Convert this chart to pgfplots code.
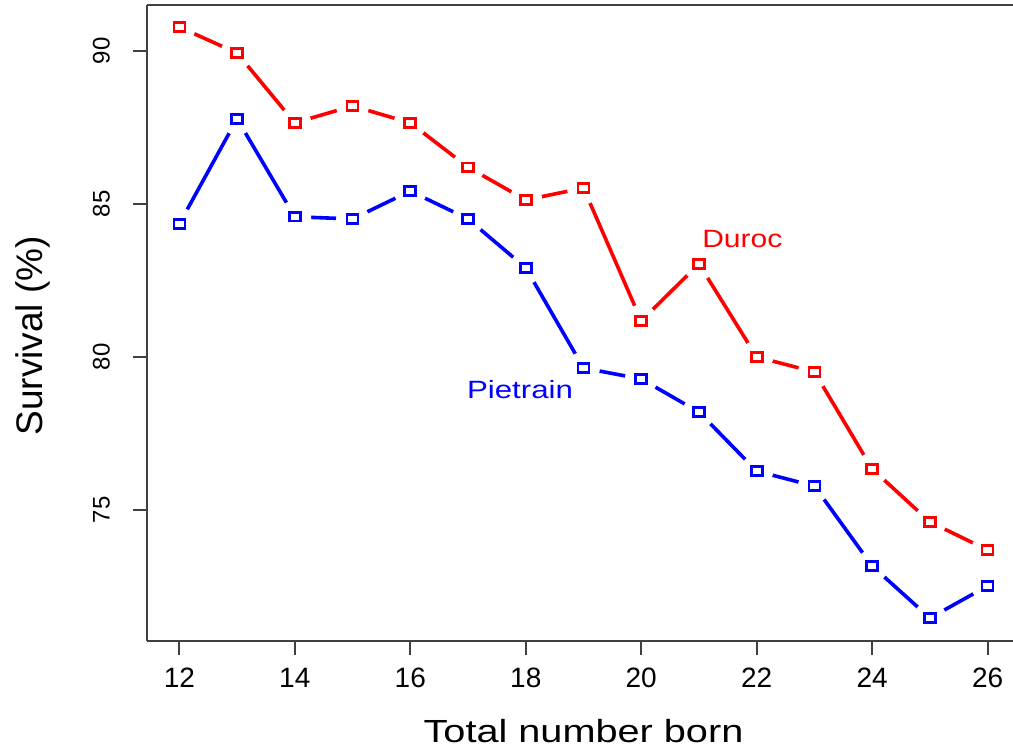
\documentclass[border=0pt]{standalone}
\usepackage{fontspec}
\setmainfont{Liberation Sans}
\usepackage{pgfplots}
\pgfplotsset{compat=1.18}
\newcommand{\hs}[2][1.2]{\scalebox{#1}[1]{#2}}
\pgfplotstableread{
x duroc pietrain
12 90.78 84.35
13 89.93 87.78
14 87.65 84.58
15 88.20 84.51
16 87.65 85.42
17 86.20 84.51
18 85.13 82.91
19 85.52 79.64
20 81.18 79.28
21 83.04 78.20
22 80.00 76.27
23 79.51 75.78
24 76.34 73.17
25 74.61 71.47
26 73.69 72.52
}\datatable
\begin{document}
\begin{tikzpicture}
\begin{axis}[
  scale only axis, width=436.5pt, height=318pt,
  xmin=11.44, xmax=26.56, ymin=70.72, ymax=91.5,
  axis lines*=left,
  xtick={12,14,16,18,20,22,24,26},
  xticklabels={12,14,16,18,20,22,24,26},
  ytick={75,80,85,90},
  yticklabels={75,80,85,90},
  tick align=outside, tick pos=left,
  major tick length=7pt,
  axis line style={black!75, line width=1.1pt, -},
  every tick/.style={black!75, line width=1.1pt},
  xticklabel style={font=\fontsize{14}{16}\selectfont},
  yticklabel style={font=\fontsize{12}{14}\selectfont, rotate=90, anchor=south},
  xticklabel shift=3pt,
  yticklabel shift=8pt,
  xlabel={\hs[1.24]{Total number born}},
  ylabel={Survival (\%)},
  xlabel style={font=\fontsize{16}{18}\selectfont, at={(axis description cs:0.5,-0.1415)}, anchor=center},
  ylabel style={font=\fontsize{18.5}{20}\selectfont, at={(axis description cs:-0.1306,0.48)}, anchor=center, rotate=0},
  clip=false,
]
\addplot[red, line width=1.8pt] table[x=x, y=duroc] {\datatable};
\addplot[blue, line width=1.8pt] table[x=x, y=pietrain] {\datatable};
\addplot[white, only marks, mark=*, mark size=8pt, mark options={fill=white, draw=white}] table[x=x, y=duroc] {\datatable};
\addplot[white, only marks, mark=*, mark size=8pt, mark options={fill=white, draw=white}] table[x=x, y=pietrain] {\datatable};
\addplot[only marks, red, mark=square, mark size=2.2pt, mark options={draw=red, line width=1.3pt, xscale=1.25}] table[x=x, y=duroc] {\datatable};
\addplot[only marks, blue, mark=square, mark size=2.2pt, mark options={draw=blue, line width=1.3pt, xscale=1.25}] table[x=x, y=pietrain] {\datatable};
\draw[black!75, line width=1.1pt] (axis description cs:0,1) -- (axis description cs:1,1);
\node[red, anchor=base, font=\fontsize{12.5}{14}\selectfont] at (axis cs:21.75,83.59) {\hs{Duroc}};
\node[blue, anchor=base, font=\fontsize{12.5}{14}\selectfont] at (axis cs:17.90,78.63) {\hs[1.25]{Pietrain}};
\end{axis}
\pgfresetboundingbox
\useasboundingbox (-73.5pt,-53pt) rectangle (433pt,320.5pt);
\end{tikzpicture}
\end{document}
